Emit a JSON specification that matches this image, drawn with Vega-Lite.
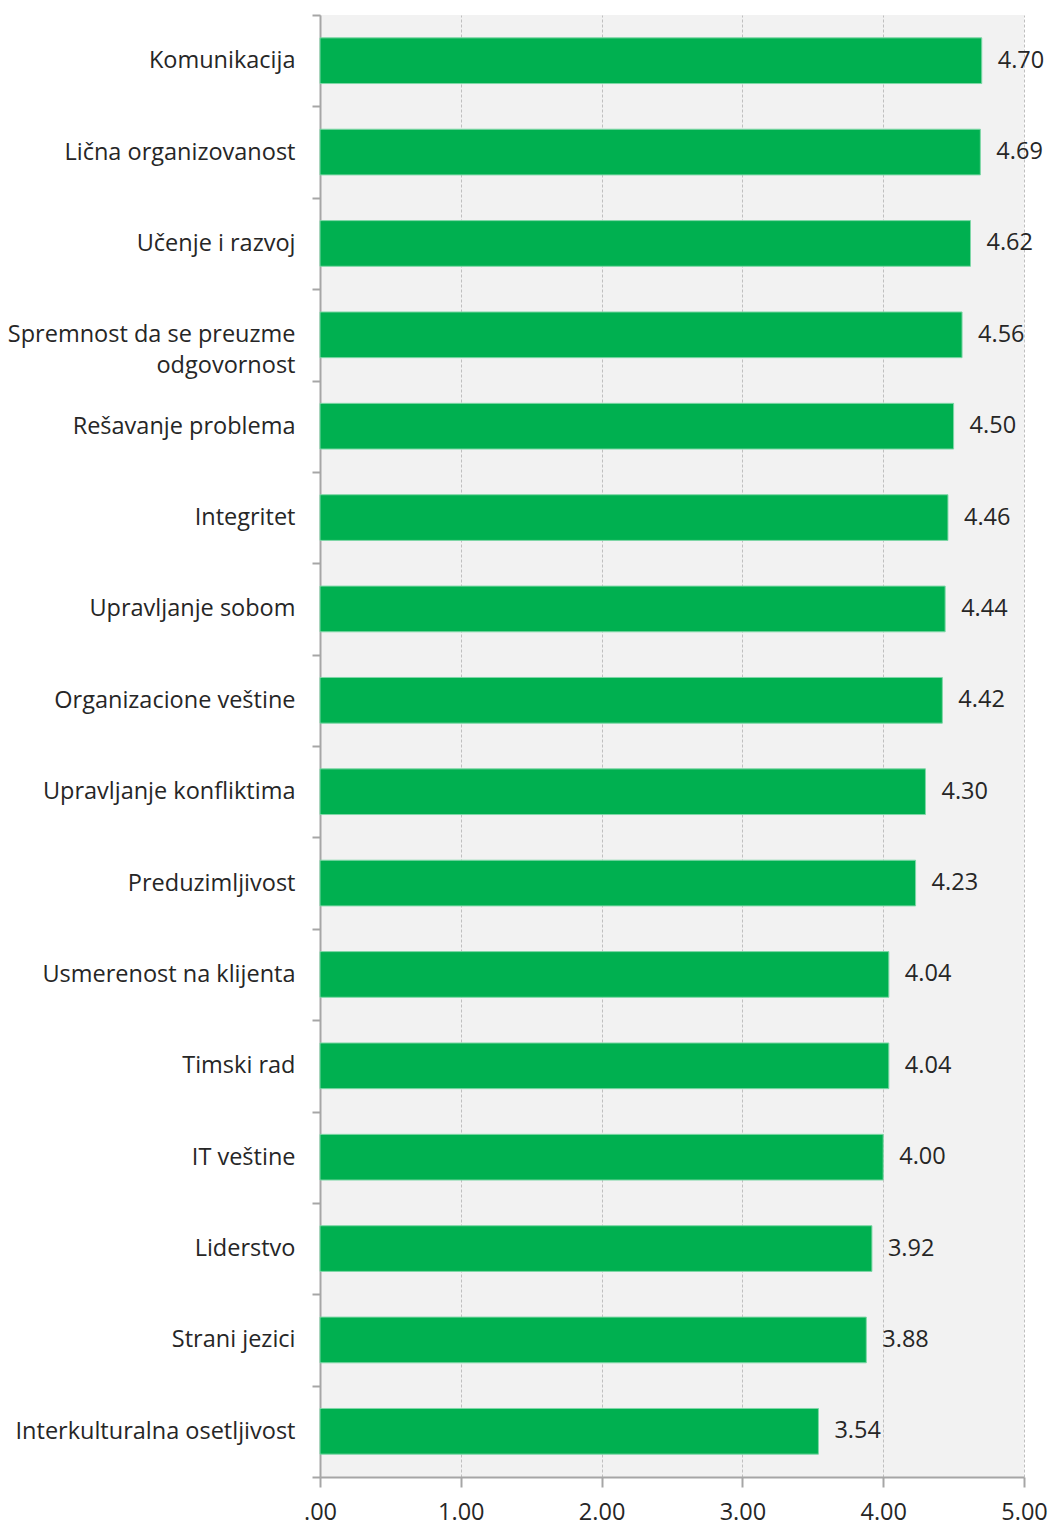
{
  "$schema": "https://vega.github.io/schema/vega-lite/v6.json",
  "autosize": "none",
  "width": 704,
  "height": 1462,
  "padding": {"left": 320, "top": 15, "right": 27, "bottom": 49},
  "background": "white",
  "config": {
    "view": {"fill": "#f2f2f2", "stroke": null},
    "font": "Open Sans",
    "axis": {"labelFont": "Open Sans", "labelFontSize": 23.5, "labelColor": "#262626", "domainColor": "#a6a6a6", "tickColor": "#a6a6a6", "domainWidth": 2, "tickWidth": 2, "labelLimit": 0}
  },
  "data": {
    "values": [
      {"skill": "Komunikacija", "value": 4.70},
      {"skill": "Lična organizovanost", "value": 4.69},
      {"skill": "Učenje i razvoj", "value": 4.62},
      {"skill": "Spremnost da se preuzme|odgovornost\u00a0\u00a0\u00a0\u00a0\u00a0\u00a0\u00a0\u00a0\u00a0\u00a0\u00a0\u00a0", "value": 4.56},
      {"skill": "Rešavanje problema", "value": 4.50},
      {"skill": "Integritet", "value": 4.46},
      {"skill": "Upravljanje sobom", "value": 4.44},
      {"skill": "Organizacione veštine", "value": 4.42},
      {"skill": "Upravljanje konfliktima", "value": 4.30},
      {"skill": "Preduzimljivost", "value": 4.23},
      {"skill": "Usmerenost na klijenta", "value": 4.04},
      {"skill": "Timski rad", "value": 4.04},
      {"skill": "IT veštine", "value": 4.00},
      {"skill": "Liderstvo", "value": 3.92},
      {"skill": "Strani jezici", "value": 3.88},
      {"skill": "Interkulturalna osetljivost", "value": 3.54}
    ]
  },
  "encoding": {
    "y": {
      "field": "skill", "type": "nominal", "sort": null,
      "scale": {"paddingInner": 0, "paddingOuter": 0},
      "axis": {
        "title": null, "tickSize": 8, "bandPosition": 0, "tickBand": "extent",
        "labelExpr": "split(datum.label, '|')", "labelLineHeight": 31, "grid": false,
        "labelPadding": 17,
        "encode": {
          "labels": {
            "update": {
              "dy": {"signal": "indexof(datum.label, '|') >= 0 ? -15 : 0"}
            }
          }
        }
      }
    },
    "x": {
      "field": "value", "type": "quantitative",
      "scale": {"domain": [0, 5], "nice": false},
      "axis": {"title": null, "values": [0, 1, 2, 3, 4, 5], "labelExpr": "datum.value == 0 ? '.00' : format(datum.value, '.2f')", "tickSize": 10, "labelPadding": 13, "grid": true, "gridColor": "#bfbfbf", "gridDash": [3, 2], "gridWidth": 1, "labelFlush": false}
    }
  },
  "layer": [
    {"mark": {"type": "bar", "color": "#00b050", "stroke": "#7fd7a7", "strokeWidth": 1, "height": {"band": 0.5}}},
    {"mark": {"type": "text", "align": "left", "dx": 16, "fontSize": 23.5, "color": "#262626", "font": "Open Sans"}, "encoding": {"text": {"field": "value", "type": "quantitative", "format": ".2f"}}}
  ]
}
